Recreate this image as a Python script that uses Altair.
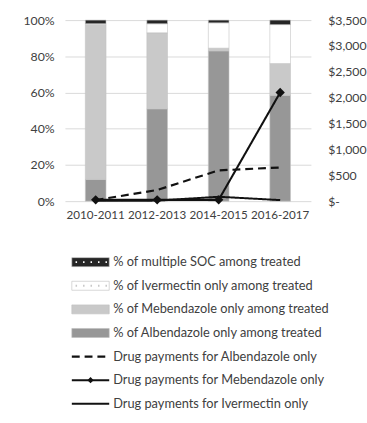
import altair as alt
import pandas as pd

periods = ["2010-2011", "2012-2013", "2014-2015", "2016-2017"]

# stacked shares (fraction of treated)
albendazole_share = [0.12, 0.51, 0.83, 0.585]
mebendazole_share = [0.855, 0.42, 0.015, 0.175]
ivermectin_share = [0.005, 0.05, 0.14, 0.215]
multiple_share = [0.02, 0.02, 0.015, 0.025]

# drug payments ($)
pay_albendazole = [20, 215, 595, 650]
pay_mebendazole = [25, 25, 25, 2100]
pay_ivermectin = [5, 10, 85, 20]

bar_names = [
    "% of Albendazole only among treated",
    "% of Mebendazole only among treated",
    "% of Ivermectin only among treated",
    "% of multiple SOC among treated",
]
bar_colors = ["#979797", "#c9c9c9", "#ffffff", "#262626"]
line_names = [
    "Drug payments for Albendazole only",
    "Drug payments for Mebendazole only",
    "Drug payments for Ivermectin only",
]
legend_order = [
    "% of multiple SOC among treated",
    "% of Ivermectin only among treated",
    "% of Mebendazole only among treated",
    "% of Albendazole only among treated",
    "Drug payments for Albendazole only",
    "Drug payments for Mebendazole only",
    "Drug payments for Ivermectin only",
]

FONT = "Lato"
TXT = "#404040"

rows = []
for series_i, (name, vals) in enumerate(zip(bar_names, [albendazole_share, mebendazole_share, ivermectin_share, multiple_share])):
    for p, v in zip(periods, vals):
        rows.append({"period": p, "drug": name, "share": v, "ord": series_i})
bar_df = pd.DataFrame(rows)

lrows = []
for name, vals in zip(line_names, [pay_albendazole, pay_mebendazole, pay_ivermectin]):
    for p, v in zip(periods, vals):
        lrows.append({"period": p, "drug": name, "pay": v})
line_df = pd.DataFrame(lrows)

W, H = 250, 184

xenc = alt.X("period:N", sort=periods, title=None,
             scale=alt.Scale(paddingInner=0, paddingOuter=0),
             axis=alt.Axis(ticks=False, domain=False, labelPadding=9, labelAngle=0,
                           labelFont=FONT, labelFontSize=11.8, labelColor=TXT))

bars = alt.Chart(bar_df).mark_bar(size=21, stroke="#c4c4c4", strokeWidth=0.6).encode(
    x=xenc,
    y=alt.Y("share:Q", stack="zero", title=None,
            scale=alt.Scale(domain=[0, 1], nice=False),
            axis=alt.Axis(format="%", values=[0, 0.2, 0.4, 0.6, 0.8, 1.0], ticks=False,
                          domain=False, grid=True, gridColor="#d9d9d9", gridWidth=1,
                          labelPadding=11, labelFont=FONT, labelFontSize=12.5, labelColor=TXT)),
    color=alt.Color("drug:N", scale=alt.Scale(domain=bar_names, range=bar_colors), legend=None),
    order=alt.Order("ord:Q"),
)

yline = alt.Y("pay:Q", title=None, scale=alt.Scale(domain=[0, 3500], nice=False),
              axis=alt.Axis(orient="right", values=[0, 500, 1000, 1500, 2000, 2500, 3000, 3500],
                            ticks=False, domain=False, grid=False, labelPadding=17,
                            labelExpr="datum.value == 0 ? '$-' : '$' + format(datum.value, ',')",
                            labelFont=FONT, labelFontSize=12.5, labelColor=TXT))

lines = alt.Chart(line_df).mark_line(color="#111111").encode(
    x=alt.X("period:N", sort=periods),
    y=yline,
    detail="drug:N",
    strokeDash=alt.StrokeDash("drug:N", scale=alt.Scale(domain=line_names, range=[[8, 5], [1, 0], [1, 0]]), legend=None),
    strokeWidth=alt.StrokeWidth("drug:N", scale=alt.Scale(domain=line_names, range=[2.2, 2, 1.6]), legend=None),
)

pts = alt.Chart(line_df[line_df["drug"] == line_names[1]]).mark_point(
    shape="diamond", filled=True, color="#111111", size=90, opacity=1).encode(
    x=alt.X("period:N", sort=periods),
    y=yline,
)

main = alt.layer(bars, lines + pts).resolve_scale(y="independent").properties(width=W, height=H)

# ---- manual legend ----
leg_df = pd.DataFrame({"label": legend_order})
LH = 168
ly = alt.Y("label:N", sort=legend_order, axis=None, title=None,
           scale=alt.Scale(type="point", padding=0.5))
base = alt.Chart(leg_df)
sym_x = alt.value(26)
rect_path = "M-1,-0.24H1V0.24H-1Z"
dots_path = "M-0.8,-0.05h0.08v0.1h-0.08Z M-0.4,-0.05h0.08v0.1h-0.08Z M0,-0.05h0.08v0.1h-0.08Z M0.4,-0.05h0.08v0.1h-0.08Z M0.8,-0.05h0.08v0.1h-0.08Z"

sym_fill = {
    "% of multiple SOC among treated": "#262626",
    "% of Ivermectin only among treated": "#ffffff",
    "% of Mebendazole only among treated": "#c9c9c9",
    "% of Albendazole only among treated": "#979797",
}
rect_df = leg_df[leg_df["label"].isin(bar_names)]
rects = alt.Chart(rect_df).mark_point(shape=rect_path, size=1444, filled=True, opacity=1,
                                      stroke="#bdbdbd", strokeWidth=0.6).encode(
    x=sym_x, y=ly,
    fill=alt.Fill("label:N", scale=alt.Scale(domain=list(sym_fill.keys()), range=list(sym_fill.values())), legend=None),
)
dots = alt.Chart(leg_df[leg_df["label"].isin(bar_names[2:])]).mark_point(
    shape=dots_path, size=1444, filled=True, opacity=1, strokeWidth=0).encode(
    x=sym_x, y=ly,
    fill=alt.Fill("label:N", scale=alt.Scale(domain=[bar_names[3], bar_names[2]], range=["#ffffff", "#c8c8c8"]), legend=None),
)
dash_rule = alt.Chart(leg_df[leg_df["label"] == line_names[0]]).mark_rule(
    color="#111111", strokeWidth=2.2, strokeDash=[8, 5]).encode(
    x=alt.value(7), x2=alt.value(45), y=ly)
solid_rules = alt.Chart(leg_df[leg_df["label"].isin(line_names[1:])]).mark_rule(
    color="#111111", strokeWidth=2).encode(
    x=alt.value(7), x2=alt.value(45), y=ly)
leg_diamond = alt.Chart(leg_df[leg_df["label"] == line_names[1]]).mark_point(
    shape="diamond", filled=True, color="#111111", size=40, opacity=1).encode(x=sym_x, y=ly)
texts = base.mark_text(align="left", baseline="middle", font=FONT, fontSize=13, color=TXT).encode(
    x=alt.value(49), y=ly, text="label:N")

legend = alt.layer(rects, dots, dash_rule, solid_rules, leg_diamond, texts).resolve_scale(
    fill="independent").properties(width=W, height=LH)

chart = alt.vconcat(main, legend, spacing=29).properties(
    padding={"left": 23, "top": 11, "right": 0, "bottom": 0}
).configure(background="white").configure_view(stroke=None)

chart.save("out.html", embed_options={"renderer": "svg", "actions": False})
